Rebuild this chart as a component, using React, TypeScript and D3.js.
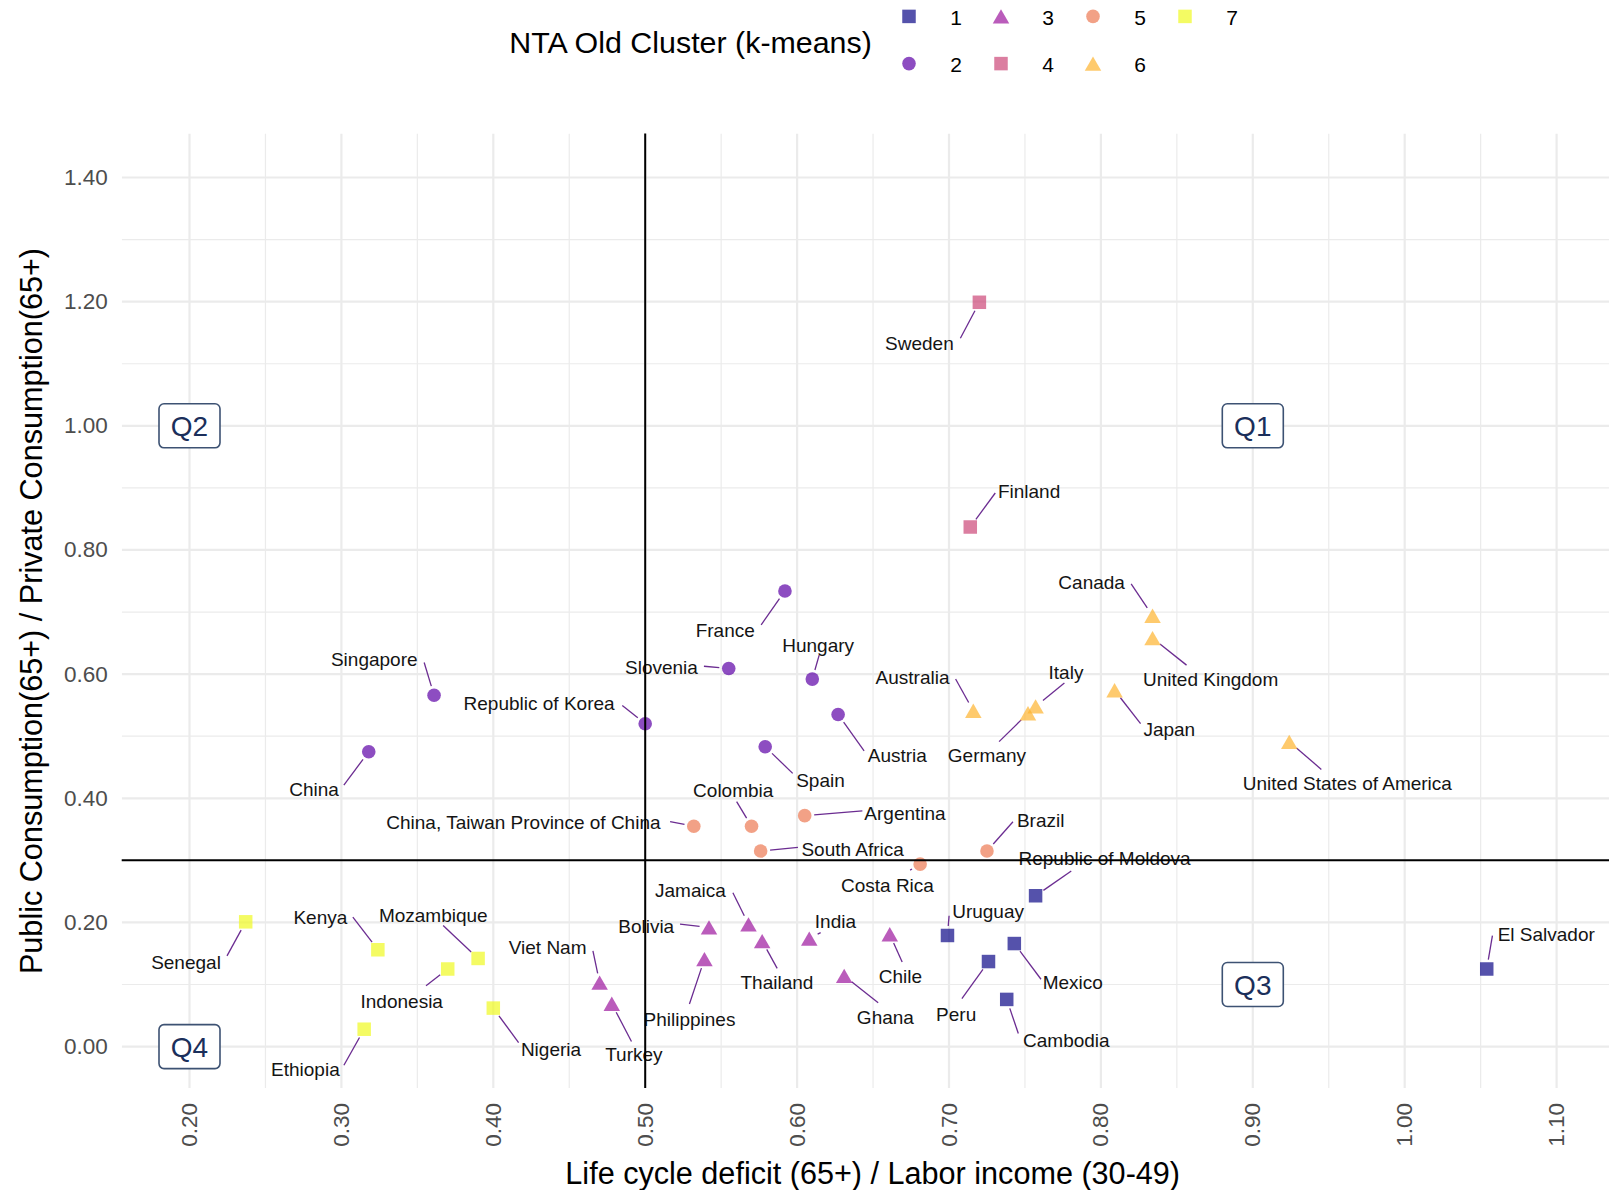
import React, { useEffect } from "react";
import * as d3 from "d3";

// ---------------- data ----------------
const COUNTRIES = [
  "Republic of Moldova", "Uruguay", "Mexico", "Peru", "Cambodia", "El Salvador",
  "France", "Slovenia", "Hungary", "Austria", "Spain", "Republic of Korea", "Singapore", "China",
  "Jamaica", "Bolivia", "Thailand", "India", "Chile", "Philippines", "Ghana", "Viet Nam", "Turkey",
  "Sweden", "Finland",
  "China, Taiwan Province of China", "Colombia", "Argentina", "South Africa", "Costa Rica", "Brazil",
  "Canada", "United Kingdom", "Australia", "Italy", "Germany", "Japan", "United States of America",
  "Senegal", "Kenya", "Mozambique", "Indonesia", "Nigeria", "Ethiopia",
];

const CLUSTERS = [
  1, 1, 1, 1, 1, 1,
  2, 2, 2, 2, 2, 2, 2, 2,
  3, 3, 3, 3, 3, 3, 3, 3, 3,
  4, 4,
  5, 5, 5, 5, 5, 5,
  6, 6, 6, 6, 6, 6, 6,
  7, 7, 7, 7, 7, 7,
];

// Life cycle deficit (65+) / Labor income (30-49)
const LCD_RATIO = [
  0.757, 0.699, 0.743, 0.726, 0.738, 1.054,
  0.592, 0.555, 0.610, 0.627, 0.579, 0.500, 0.361, 0.318,
  0.568, 0.542, 0.577, 0.608, 0.661, 0.539, 0.631, 0.470, 0.478,
  0.720, 0.714,
  0.532, 0.570, 0.605, 0.576, 0.681, 0.725,
  0.834, 0.834, 0.716, 0.757, 0.752, 0.809, 0.924,
  0.237, 0.324, 0.390, 0.370, 0.400, 0.315,
];

// Public Consumption(65+) / Private Consumption(65+)
const CONS_RATIO = [
  0.243, 0.179, 0.166, 0.137, 0.076, 0.125,
  0.734, 0.609, 0.592, 0.535, 0.483, 0.520, 0.566, 0.475,
  0.197, 0.192, 0.170, 0.174, 0.181, 0.141, 0.114, 0.103, 0.069,
  1.199, 0.837,
  0.355, 0.355, 0.372, 0.315, 0.294, 0.315,
  0.694, 0.658, 0.541, 0.548, 0.537, 0.574, 0.491,
  0.201, 0.156, 0.142, 0.125, 0.062, 0.028,
];

const X_TICKS = [0.2, 0.3, 0.4, 0.5, 0.6, 0.7, 0.8, 0.9, 1.0, 1.1];
const X_MINOR = [0.25, 0.35, 0.45, 0.55, 0.65, 0.75, 0.85, 0.95, 1.05];
const Y_TICKS = [0.0, 0.2, 0.4, 0.6, 0.8, 1.0, 1.2, 1.4];
const Y_MINOR = [0.1, 0.3, 0.5, 0.7, 0.9, 1.1, 1.3];

const CLUSTER_LEVELS = [1, 2, 3, 4, 5, 6, 7];
const CLUSTER_SHAPES = ["square", "circle", "triangle", "square", "circle", "triangle", "square"];

const X_REF = 0.5;
const Y_REF = 0.3;

const QUAD_NAMES = ["Q1", "Q2", "Q3", "Q4"];
const QUAD_X = [0.9, 0.2, 0.9, 0.2];
const QUAD_Y = [1.0, 1.0, 0.1, 0.0];

const X_TITLE = "Life cycle deficit (65+) / Labor income (30-49)";
const Y_TITLE = "Public Consumption(65+) / Private Consumption(65+)";
const LEGEND_TITLE = "NTA Old Cluster (k-means)";

// ---------------- layout (repelled label placement, pixel offsets from point) ----------------
// [label centre dx, dy, segment label-end dx, dy]
const LABEL_LAYOUT: Record<string, number[]> = {
  "Republic of Moldova": [69, -36.9, 35.7, -24.7],
  "Uruguay": [40.6, -24, 1.6, -19.7],
  "Mexico": [58.5, 39.4, 26.7, 35.7],
  "Peru": [-32.3, 52.7, -26.6, 37],
  "Cambodia": [59.6, 40.7, 11.6, 34],
  "El Salvador": [59.5, -35, 5.7, -33.3],
  "France": [-59.7, 39.7, -23.8, 34],
  "Slovenia": [-67.3, -1, -24.8, -2.3],
  "Hungary": [5.9, -34, 6.9, -24],
  "Austria": [59.2, 41.3, 26, 36.4],
  "Spain": [55.3, 33.3, 27.5, 26.6],
  "Republic of Korea": [-106.1, -20, -22.9, -18.3],
  "Singapore": [-59.8, -36, -9.9, -32.7],
  "China": [-54.7, 37.6, -24.9, 33.3],
  "Jamaica": [-58.1, -34.3, -15.6, -31.6],
  "Bolivia": [-62.8, -1.3, -29, -3.3],
  "Thailand": [14.8, 41.7, 15, 27.3],
  "India": [26.2, -17.3, 11.4, -6],
  "Chile": [10.7, 42.7, 12.4, 27.7],
  "Philippines": [-15, 60, -15, 45],
  "Ghana": [41.2, 42, 34, 27],
  "Viet Nam": [-52, -35, -6.7, -31.7],
  "Turkey": [22.1, 50.8, 19.7, 37.7],
  "Sweden": [-60, 41, -19, 36],
  "Finland": [58.8, -36, 25, -34],
  "China, Taiwan Province of China": [-170.4, -3.3, -23.7, -4.6],
  "Colombia": [-18.3, -35.6, -14.9, -24.6],
  "Argentina": [100.3, -2.4, 57.7, -4.7],
  "South Africa": [92, -2, 37.3, -3.7],
  "Costa Rica": [-32.7, 21.3, -10, 6],
  "Brazil": [53.7, -31, 26, -29.3],
  "Canada": [-60.9, -33.3, -21.4, -32],
  "United Kingdom": [58.1, 41.7, 34, 27],
  "Australia": [-60.8, -33.7, -17.7, -31.7],
  "Italy": [30.4, -34, 28.8, -23.4],
  "Germany": [-41.1, 42.7, -28.9, 28.4],
  "Japan": [54.7, 39.3, 26, 33.3],
  "United States of America": [58.1, 41.6, 32.1, 27.6],
  "Senegal": [-59.7, 40.7, -18.7, 34],
  "Kenya": [-57.5, -32.7, -25, -32.7],
  "Mozambique": [-44.8, -43.3, -35, -33],
  "Indonesia": [-46, 32, -21.7, 16.7],
  "Nigeria": [57.7, 41, 25.3, 34.4],
  "Ethiopia": [-58.8, 40.3, -20.3, 36],
};

const W = 1609;
const H = 1190;
const PANEL = { left: 121.7, right: 1609, top: 133.4, bottom: 1088 };
const FONT = "'Liberation Sans', Arial, Helvetica, sans-serif";
const GRID = "#ebebeb";
const SEG_COLOR = "#6b2c91";
const Q_TEXT = "#1b2f5b";
const Q_BORDER = "#3d5273";

const xScale = d3.scaleLinear().domain([0.2, 1.1]).range([189.5, 1556.6]);
const yScale = d3.scaleLinear().domain([0, 1.4]).range([1046.6, 177.5]);
const colorOf = (c: number) => d3.interpolatePlasma((c - 1) / 6);
const POINT_OPACITY = 0.7;

function Marker({ shape, x, y, color }: { shape: string; x: number; y: number; color: string }) {
  if (shape === "square") {
    const s = 13.5;
    return <rect x={x - s / 2} y={y - s / 2} width={s} height={s} fill={color} fillOpacity={POINT_OPACITY} />;
  }
  if (shape === "circle") {
    return <circle cx={x} cy={y} r={6.8} fill={color} fillOpacity={POINT_OPACITY} />;
  }
  const s = 16.5;
  const h = 14.3;
  const pts = `${x},${y - h / 2} ${x + s / 2},${y + h / 2} ${x - s / 2},${y + h / 2}`;
  return <polygon points={pts} fill={color} fillOpacity={POINT_OPACITY} />;
}

function fmt(v: number) {
  return d3.format(".2f")(v);
}

export default function App() {
  useEffect(() => {
    document.body.style.margin = "0";
  }, []);

  const points = COUNTRIES.map((name, i) => ({
    name,
    cluster: CLUSTERS[i],
    px: xScale(LCD_RATIO[i]),
    py: yScale(CONS_RATIO[i]),
  }));

  const GAP = 9.5;

  return (
    <div style={{ position: "absolute", left: 0, top: 0 }}>
      <svg width={W} height={H} style={{ display: "block", background: "#fff" }} fontFamily={FONT}>
        <defs>
          <clipPath id="panel-clip">
            <rect x={PANEL.left} y={PANEL.top} width={PANEL.right - PANEL.left} height={PANEL.bottom - PANEL.top} />
          </clipPath>
        </defs>

        {/* grid */}
        <g clipPath="url(#panel-clip)">
          {Y_MINOR.map((v) => (
            <line key={"ym" + v} x1={PANEL.left} x2={PANEL.right} y1={yScale(v)} y2={yScale(v)} stroke={GRID} strokeWidth={1.2} />
          ))}
          {X_MINOR.map((v) => (
            <line key={"xm" + v} y1={PANEL.top} y2={PANEL.bottom} x1={xScale(v)} x2={xScale(v)} stroke={GRID} strokeWidth={1.2} />
          ))}
          {Y_TICKS.map((v) => (
            <line key={"yM" + v} x1={PANEL.left} x2={PANEL.right} y1={yScale(v)} y2={yScale(v)} stroke={GRID} strokeWidth={2.2} />
          ))}
          {X_TICKS.map((v) => (
            <line key={"xM" + v} y1={PANEL.top} y2={PANEL.bottom} x1={xScale(v)} x2={xScale(v)} stroke={GRID} strokeWidth={2.2} />
          ))}
        </g>

        {/* segments */}
        <g>
          {points.map((p) => {
            const lay = LABEL_LAYOUT[p.name];
            const ex = p.px + lay[2];
            const ey = p.py + lay[3];
            const dx = ex - p.px;
            const dy = ey - p.py;
            const len = Math.sqrt(dx * dx + dy * dy);
            if (len <= GAP + 1) return null;
            const sx = p.px + (dx / len) * GAP;
            const sy = p.py + (dy / len) * GAP;
            return (
              <line key={"s" + p.name} x1={ex} y1={ey} x2={sx} y2={sy} stroke={SEG_COLOR} strokeWidth={1.3} />
            );
          })}
        </g>

        {/* points */}
        <g>
          {points.map((p) => (
            <Marker key={"p" + p.name} shape={CLUSTER_SHAPES[p.cluster - 1]} x={p.px} y={p.py} color={colorOf(p.cluster)} />
          ))}
        </g>

        {/* labels */}
        <g fontSize={19} fill="#141414">
          {points.map((p) => {
            const lay = LABEL_LAYOUT[p.name];
            return (
              <text key={"t" + p.name} x={p.px + lay[0]} y={p.py + lay[1]} textAnchor="middle" dominantBaseline="central">
                {p.name}
              </text>
            );
          })}
        </g>

        {/* reference lines */}
        <line x1={PANEL.left} x2={PANEL.right} y1={yScale(Y_REF)} y2={yScale(Y_REF)} stroke="#000" strokeWidth={2} />
        <line x1={xScale(X_REF)} x2={xScale(X_REF)} y1={PANEL.top} y2={PANEL.bottom} stroke="#000" strokeWidth={2} />

        {/* quadrant labels */}
        <g>
          {QUAD_NAMES.map((q, i) => {
            const cx = xScale(QUAD_X[i]);
            const cy = yScale(QUAD_Y[i]);
            const bw = 61;
            const bh = 44;
            return (
              <g key={q}>
                <rect x={cx - bw / 2} y={cy - bh / 2} width={bw} height={bh} rx={5} ry={5} fill="#fff" stroke={Q_BORDER} strokeWidth={1.6} />
                <text x={cx} y={cy + 1} textAnchor="middle" dominantBaseline="central" fontSize={28} fill={Q_TEXT}>
                  {q}
                </text>
              </g>
            );
          })}
        </g>

        {/* y axis ticks */}
        <g fontSize={22.5} fill="#4d4d4d">
          {Y_TICKS.map((v) => (
            <text key={"yt" + v} x={107.7} y={yScale(v)} textAnchor="end" dominantBaseline="central">
              {fmt(v)}
            </text>
          ))}
        </g>

        {/* x axis ticks (rotated) */}
        <g fontSize={22.5} fill="#4d4d4d">
          {X_TICKS.map((v) => (
            <text
              key={"xt" + v}
              transform={`translate(${xScale(v)},1103) rotate(-90)`}
              textAnchor="end"
              dominantBaseline="central"
            >
              {fmt(v)}
            </text>
          ))}
        </g>

        {/* axis titles */}
        <text x={872.7} y={1173} textAnchor="middle" dominantBaseline="central" fontSize={30.6} fill="#000">
          {X_TITLE}
        </text>
        <text
          transform={`translate(31,611) rotate(-90)`}
          textAnchor="middle"
          dominantBaseline="central"
          fontSize={30.6}
          fill="#000"
        >
          {Y_TITLE}
        </text>

        {/* legend */}
        <text x={690.6} y={42} textAnchor="middle" dominantBaseline="central" fontSize={30.4} fill="#000">
          {LEGEND_TITLE}
        </text>
        <g>
          {CLUSTER_LEVELS.map((c, i) => {
            const col = Math.floor(i / 2);
            const row = i % 2;
            const kx = 909 + col * 92;
            const ky = 16.4 + row * 47.2;
            return (
              <g key={"lg" + c}>
                <Marker shape={CLUSTER_SHAPES[i]} x={kx} y={ky} color={colorOf(c)} />
                <text x={kx + 47} y={ky + 1} textAnchor="middle" dominantBaseline="central" fontSize={21} fill="#000">
                  {c}
                </text>
              </g>
            );
          })}
        </g>
      </svg>
    </div>
  );
}
